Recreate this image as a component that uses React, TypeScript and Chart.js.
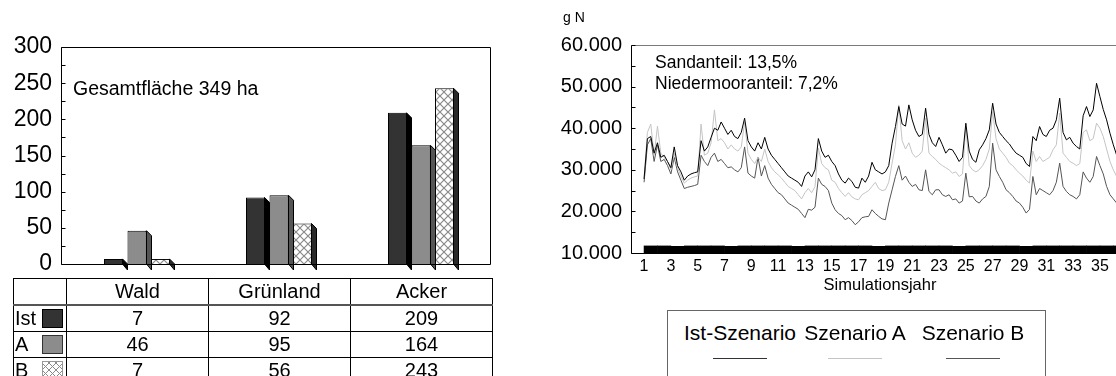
import React, { useEffect, useRef } from 'react';
import { Chart, registerables } from 'chart.js';
Chart.register(...registerables);

const FONT = '"Liberation Sans", Arial, Helvetica, sans-serif';

// ---------- left panel data ----------
const landCategories = ['Wald', 'Grünland', 'Acker'];
const scenarioShort = ['Ist', 'A', 'B'];
const istArea = [7, 92, 209];
const aArea = [46, 95, 164];
const bArea = [7, 56, 243];
const areaNote = 'Gesamtfläche 349 ha';

// ---------- right panel data (thousand g N, quarter-year steps from year 1) ----------
const yearTicks = [1, 3, 5, 7, 9, 11, 13, 15, 17, 19, 21, 23, 25, 27, 29, 31, 33, 35];
const firstYear = 1;
const stepYear = 0.25;
const istN = [
  27.8, 37.5, 38.0, 34.0, 36.5, 33.0, 33.5, 32.0, 30.5, 35.5, 31.0, 29.5,
  27.5, 28.5, 29.0, 29.3, 29.5, 37.0, 34.5, 35.5, 37.8, 40.0, 39.5, 41.5,
  40.0, 38.5, 39.5, 38.0, 37.5, 39.0, 42.4, 37.0, 35.5, 34.5, 36.5, 35.0,
  37.8, 35.0, 33.5, 32.5, 31.5, 30.5, 29.5, 28.5, 28.0, 27.5, 27.0, 26.0,
  28.5, 29.5, 28.3, 30.0, 37.5, 34.5, 33.0, 33.5, 32.0, 31.0, 29.0, 27.5,
  26.8, 28.0, 27.2, 25.8, 25.6, 28.0, 27.0, 28.5, 31.8, 30.0, 29.5, 29.0,
  29.5, 31.0, 36.4, 40.4, 45.2, 41.0, 40.5, 45.6, 42.0, 39.5, 38.0, 38.5,
  44.8, 38.5, 36.5, 35.6, 37.8, 36.0, 34.0, 35.0, 34.8, 33.5, 32.0, 33.0,
  41.2, 34.5, 32.5, 31.8, 34.8, 36.0, 37.5, 39.6, 46.0, 41.0, 39.0, 38.0,
  37.0, 36.2, 35.0, 34.0, 33.5, 33.0, 31.5, 30.8, 38.0, 37.0, 40.4, 38.5,
  38.0, 39.5, 40.0, 42.0, 47.2, 39.0, 37.2, 37.8, 36.4, 35.6, 35.0, 43.0,
  45.2, 42.8, 44.4, 50.8, 47.6, 44.5, 42.0, 38.8, 36.0, 33.5,
];
const aN = [
  28.0, 39.0, 41.0, 33.5, 40.5, 34.0, 33.0, 32.0, 30.0, 34.0, 30.5, 28.5,
  26.8, 27.5, 28.0, 28.3, 28.5, 41.0, 33.5, 34.0, 36.5, 44.4, 37.0, 37.5,
  36.5, 35.0, 36.0, 35.0, 34.5, 35.5, 41.5, 34.0, 32.5, 31.5, 33.0, 32.0,
  35.0, 32.0, 30.5, 29.5, 28.8, 28.0, 27.0, 26.0, 25.5, 25.0, 24.0, 23.0,
  24.5, 25.5, 24.5, 26.0, 35.2, 31.5, 30.5, 30.0, 27.5, 27.0, 25.5, 24.5,
  23.6, 24.5, 23.5, 23.0, 22.8, 24.0, 24.5, 25.0, 26.0, 27.0, 25.5, 25.0,
  25.2, 27.0, 31.6, 36.0, 45.6, 37.0, 35.0, 36.5, 34.0, 33.0, 33.5, 34.5,
  42.4, 34.0, 33.2, 32.5, 31.6, 31.0, 30.5, 30.0, 29.2, 29.5, 28.4, 29.0,
  40.4, 31.0, 30.0, 29.5, 30.0, 31.0, 32.5, 35.0, 44.0, 37.5, 35.0, 34.0,
  33.0, 31.6, 31.0, 30.0, 29.2, 28.5, 27.5, 26.8, 34.5, 32.0, 33.2, 32.0,
  32.5, 33.0, 34.8, 36.0, 43.6, 34.0, 33.0, 32.0, 31.6, 31.0, 31.5, 39.0,
  39.6, 37.0, 37.5, 41.2, 40.0, 38.0, 35.0, 32.0, 30.0, 28.4,
];
const bN = [
  27.0, 36.0, 37.5, 32.0, 36.0, 32.0, 32.5, 31.0, 29.0, 33.0, 29.5, 27.5,
  25.5, 25.8, 26.0, 26.2, 26.5, 33.5, 32.0, 31.0, 33.0, 34.0, 32.0, 32.5,
  31.5, 30.5, 30.7, 30.0, 29.5, 30.5, 35.5, 29.2, 28.5, 28.0, 33.0, 28.5,
  31.0, 28.0, 26.5, 25.5, 24.5, 24.0, 23.0, 22.0, 21.5, 21.0, 20.5, 19.5,
  18.5, 20.5, 20.3, 21.0, 28.0, 26.5, 26.0, 25.0, 22.0, 20.4, 19.5, 19.0,
  18.0, 18.5, 17.8, 16.8, 17.5, 18.5, 18.7, 18.8, 20.4, 19.5, 18.8, 18.2,
  18.0, 22.0, 25.2, 28.4, 31.0, 27.5, 28.5, 27.0, 26.0, 26.5, 25.2, 25.0,
  30.0, 24.8, 24.0, 25.2, 25.2, 24.0, 23.6, 24.0, 22.8, 23.0, 22.0, 22.5,
  29.2, 23.5, 23.6, 22.5, 22.0, 23.0, 23.6, 26.0, 36.4, 30.0, 28.4, 27.0,
  25.2, 24.5, 23.6, 22.5, 22.0, 21.0, 19.6, 20.5, 28.4, 24.0, 25.5, 25.0,
  24.5, 24.0, 25.0, 27.0, 31.6, 26.0, 24.8, 24.0, 23.6, 23.0, 24.0, 29.5,
  28.0, 27.0, 28.4, 33.2, 31.0, 29.0, 26.0, 24.0, 23.0, 22.0,
];
// thick black band at the bottom (one bar per simulation year)
const bandN = [
  11.7, 11.7, 11.6, 11.7, 11.7, 11.7, 11.6, 11.7, 11.7, 11.7, 11.7, 11.6,
  11.7, 11.7, 11.7, 11.7, 11.7, 11.6, 11.7, 11.7, 11.7, 11.7, 11.7, 11.6,
  11.7, 11.7, 11.7, 11.7, 11.6, 11.7, 11.7, 11.7, 11.7, 11.7, 11.7, 11.7,
];
const seriesNames = ['Ist-Szenario', 'Szenario A', 'Szenario B'];
const seriesColors = ['#000000', '#c4c4c4', '#555555'];
const soilNotes = ['Sandanteil: 13,5%', 'Niedermooranteil: 7,2%'];

function makeHatch(): CanvasPattern | string {
  const c = document.createElement('canvas');
  c.width = 8;
  c.height = 8;
  const g = c.getContext('2d');
  if (!g) return '#fff';
  g.fillStyle = '#fff';
  g.fillRect(0, 0, 8, 8);
  g.strokeStyle = '#8a8a8a';
  g.lineWidth = 1.2;
  g.beginPath();
  g.moveTo(0, 0); g.lineTo(8, 8);
  g.moveTo(8, 0); g.lineTo(0, 8);
  g.stroke();
  return g.createPattern(c, 'repeat') || '#fff';
}

const leftPlugin = {
  id: 'left3d',
  afterDatasetsDraw(chart: any) {
    const ctx = chart.ctx;
    const sides = ['#000000', '#555555', '#2a2a2a'];
    ctx.save();
    chart.data.datasets.forEach((_: any, i: number) => {
      const meta = chart.getDatasetMeta(i);
      meta.data.forEach((bar: any) => {
        const p = bar.getProps(['x', 'y', 'base', 'width'], true);
        const xr = Math.round(p.x + p.width / 2) - 0.5;
        const d = 5;
        ctx.fillStyle = sides[i];
        ctx.strokeStyle = '#000';
        ctx.lineWidth = 1;
        ctx.beginPath();
        ctx.moveTo(xr, p.y);
        ctx.lineTo(xr + d, p.y + d);
        ctx.lineTo(xr + d, p.base + d + 1);
        ctx.lineTo(xr, p.base);
        ctx.closePath();
        ctx.fill();
        ctx.stroke();
      });
    });
    const ys = chart.scales.y;
    const top = ys.getPixelForValue(300);
    const bot = ys.getPixelForValue(0);
    const ax = 61.5;
    const rx = 490.5;
    ctx.strokeStyle = '#000';
    ctx.lineWidth = 1;
    ctx.beginPath();
    ctx.moveTo(ax, Math.round(top) + 0.5);
    ctx.lineTo(ax, Math.round(bot) + 0.5);
    ctx.lineTo(rx, Math.round(bot) + 0.5);
    ctx.moveTo(ax, Math.round(top) + 0.5);
    ctx.lineTo(rx, Math.round(top) + 0.5);
    ctx.lineTo(rx, Math.round(bot) + 0.5);
    for (let v = 0; v <= 300; v += 25) {
      const py = Math.round(ys.getPixelForValue(v)) + 0.5;
      ctx.moveTo(ax, py);
      ctx.lineTo(ax + 4, py);
    }
    ctx.stroke();
    ctx.restore();
  },
};

const rightPlugin = {
  id: 'rightFrame',
  afterDraw(chart: any) {
    const ctx = chart.ctx;
    const ys = chart.scales.y;
    const { left, right } = chart.chartArea;
    const top = Math.round(ys.getPixelForValue(60)) + 0.5;
    const bot = Math.round(ys.getPixelForValue(10)) + 0.5;
    const ax = Math.round(left) - 0.5;
    ctx.save();
    ctx.lineWidth = 1;
    ctx.strokeStyle = '#7a7a7a';
    ctx.beginPath();
    ctx.moveTo(ax, top);
    ctx.lineTo(right, top);
    ctx.stroke();
    ctx.strokeStyle = '#000';
    ctx.beginPath();
    ctx.moveTo(ax, top);
    ctx.lineTo(ax, bot);
    ctx.lineTo(right, bot);
    for (let v = 10; v <= 60; v += 5) {
      const py = Math.round(ys.getPixelForValue(v)) + 0.5;
      ctx.moveTo(ax, py);
      ctx.lineTo(ax + 4, py);
    }
    ctx.stroke();
    ctx.restore();
  },
};

export default function App() {
  const leftRef = useRef<HTMLCanvasElement>(null);
  const rightRef = useRef<HTMLCanvasElement>(null);

  useEffect(() => {
    const hatch = makeHatch();
    const common = {
      categoryPercentage: 0.4965,
      barPercentage: 0.81,
      borderColor: '#000',
      borderWidth: 1,
    };
    const left = new Chart(leftRef.current as HTMLCanvasElement, {
      type: 'bar',
      data: {
        labels: landCategories,
        datasets: [
          { label: scenarioShort[0], data: istArea, backgroundColor: '#333333', ...common },
          { label: scenarioShort[1], data: aArea, backgroundColor: '#8c8c8c', ...common },
          { label: scenarioShort[2], data: bArea, backgroundColor: hatch as any, ...common },
        ],
      },
      options: {
        responsive: false,
        animation: false,
        devicePixelRatio: 1,
        layout: { padding: { top: 47, right: 8, left: 0, bottom: 0 } },
        plugins: { legend: { display: false }, tooltip: { enabled: false } },
        scales: {
          x: {
            grid: { display: false, drawTicks: false },
            border: { display: false },
            ticks: { display: false },
            afterFit: (s: any) => { s.height = 26; s.paddingLeft = 0; s.paddingRight = 0; },
          },
          y: {
            min: 0,
            max: 300,
            ticks: { stepSize: 50, font: { family: FONT, size: 23 }, color: '#000', padding: 14 },
            grid: { display: false, drawTicks: false },
            border: { display: false },
            afterFit: (s: any) => { s.width = 66; s.paddingTop = 0; s.paddingBottom = 0; },
          },
        },
      } as any,
      plugins: [leftPlugin],
    });

    const pts = (arr: number[]) => arr.map((v, i) => ({ x: firstYear + i * stepYear, y: v }));
    const right = new Chart(rightRef.current as HTMLCanvasElement, {
      type: 'line',
      data: {
        datasets: [
          { label: seriesNames[0], data: pts(istN), borderColor: seriesColors[0], borderWidth: 1, pointRadius: 0, tension: 0, order: 1 },
          { label: seriesNames[1], data: pts(aN), borderColor: seriesColors[1], borderWidth: 1, pointRadius: 0, tension: 0, order: 2 },
          { label: seriesNames[2], data: pts(bN), borderColor: seriesColors[2], borderWidth: 1, pointRadius: 0, tension: 0, order: 3 },
          {
            type: 'bar',
            label: 'band',
            data: bandN.map((v, i) => ({ x: firstYear + i + 0.5, y: v })),
            backgroundColor: '#000',
            borderWidth: 0,
            barPercentage: 1,
            categoryPercentage: 1,
            order: 4,
          } as any,
        ],
      },
      options: {
        responsive: false,
        animation: false,
        devicePixelRatio: 1,
        layout: { padding: { top: 45, right: 0, left: 0, bottom: 0 } },
        plugins: { legend: { display: false }, tooltip: { enabled: false } },
        scales: {
          x: {
            type: 'linear',
            min: 0.1,
            max: 36.2,
            offset: false,
            afterBuildTicks: (s: any) => { s.ticks = yearTicks.map((v) => ({ value: v })); },
            ticks: {
              font: { family: FONT, size: 16 },
              color: '#000',
              padding: 4,
              maxRotation: 0,
              autoSkip: false,
              callback: (v: any) => String(v),
            },
            grid: { display: false, drawTicks: false },
            border: { display: false },
            afterFit: (s: any) => { s.height = 47; s.paddingLeft = 0; s.paddingRight = 0; },
          },
          y: {
            min: 10,
            max: 60,
            ticks: {
              stepSize: 10,
              font: { family: FONT, size: 20 },
              color: '#000',
              padding: 10,
              callback: (v: any) => Number(v).toFixed(3),
            },
            grid: { display: false, drawTicks: false },
            border: { display: false },
            afterFit: (s: any) => { s.width = 112; s.paddingTop = 0; s.paddingBottom = 0; },
          },
        },
      } as any,
      plugins: [rightPlugin],
    });
    return () => { left.destroy(); right.destroy(); };
  }, []);

  const abs = (l: number, t: number, extra: any = {}) => ({
    position: 'absolute' as const, left: l, top: t, whiteSpace: 'nowrap' as const, fontFamily: FONT, color: '#000', ...extra,
  });

  const tableRows = [
    { name: scenarioShort[0], vals: istArea, swatch: { background: '#333333', border: '1px solid #000' } },
    { name: scenarioShort[1], vals: aArea, swatch: { background: '#8c8c8c', border: '1px solid #333' } },
    {
      name: scenarioShort[2], vals: bArea, swatch: {
        background: 'repeating-linear-gradient(45deg, #8a8a8a 0px, #8a8a8a 1px, transparent 1px, transparent 5px), repeating-linear-gradient(-45deg, #8a8a8a 0px, #8a8a8a 1px, #fff 1px, #fff 5px)',
        border: '1px solid #999',
      },
    },
  ];
  const cell = { border: '1px solid #000', padding: 0, textAlign: 'center' as const, fontFamily: FONT, fontSize: 20 };

  return (
    <div style={{ position: 'absolute', left: 0, top: 0, width: 1116, height: 376, overflow: 'hidden', background: '#fff' }}>
      <canvas ref={leftRef} width={500} height={290} style={{ position: 'absolute', left: 0, top: 0, width: 500, height: 290 }} />
      <canvas ref={rightRef} width={596} height={300} style={{ position: 'absolute', left: 520, top: 0, width: 596, height: 300 }} />

      <div style={abs(73, 77, { fontSize: 19.5, lineHeight: '22px' })}>{areaNote}</div>

      <table style={{ position: 'absolute', left: 13, top: 278, borderCollapse: 'collapse', tableLayout: 'fixed', width: 479 }}>
        <colgroup>
          <col style={{ width: 53 }} />
          <col style={{ width: 142 }} />
          <col style={{ width: 142 }} />
          <col style={{ width: 142 }} />
        </colgroup>
        <tbody>
          <tr style={{ height: 26 }}>
            <td style={cell}></td>
            {landCategories.map((c) => <td key={c} style={cell}>{c}</td>)}
          </tr>
          {tableRows.map((r, ri) => (
            <tr key={r.name} style={{ height: ri === 0 ? 27 : 26 }}>
              <td style={{ ...cell, textAlign: 'left', position: 'relative', borderTop: ri === 0 ? '2px solid #555' : cell.border }}>
                <span style={{ paddingLeft: 1 }}>{r.name}</span>
                <span style={{ position: 'absolute', right: 3, top: 3, width: 21, height: 19, boxSizing: 'border-box', ...r.swatch }} />
              </td>
              {r.vals.map((v, i) => (
                <td key={i} style={{ ...cell, borderTop: ri === 0 ? '2px solid #555' : cell.border }}>{v}</td>
              ))}
            </tr>
          ))}
        </tbody>
      </table>

      <div style={abs(563, 9, { fontSize: 14, lineHeight: '16px' })}>g N</div>
      <div style={abs(655, 52, { fontSize: 17.5, lineHeight: '20px' })}>{soilNotes[0]}</div>
      <div style={abs(655, 73, { fontSize: 17.5, lineHeight: '20px' })}>{soilNotes[1]}</div>
      <div style={abs(880, 275, { fontSize: 16.5, lineHeight: '19px', transform: 'translateX(-50%)' })}>Simulationsjahr</div>

      <div style={{ position: 'absolute', left: 667, top: 310, width: 379, height: 80, border: '1px solid #666', boxSizing: 'border-box' }} />
      {seriesNames.map((n, i) => {
        const cx = [740, 855, 973][i];
        return (
          <React.Fragment key={n}>
            <div style={abs(cx, 321, { fontSize: 21, lineHeight: '24px', transform: 'translateX(-50%)' })}>{n}</div>
            <div style={{ position: 'absolute', left: cx - 27, top: 358, width: 54, height: 1, background: seriesColors[i] === '#000000' ? '#333' : seriesColors[i] }} />
          </React.Fragment>
        );
      })}
    </div>
  );
}
